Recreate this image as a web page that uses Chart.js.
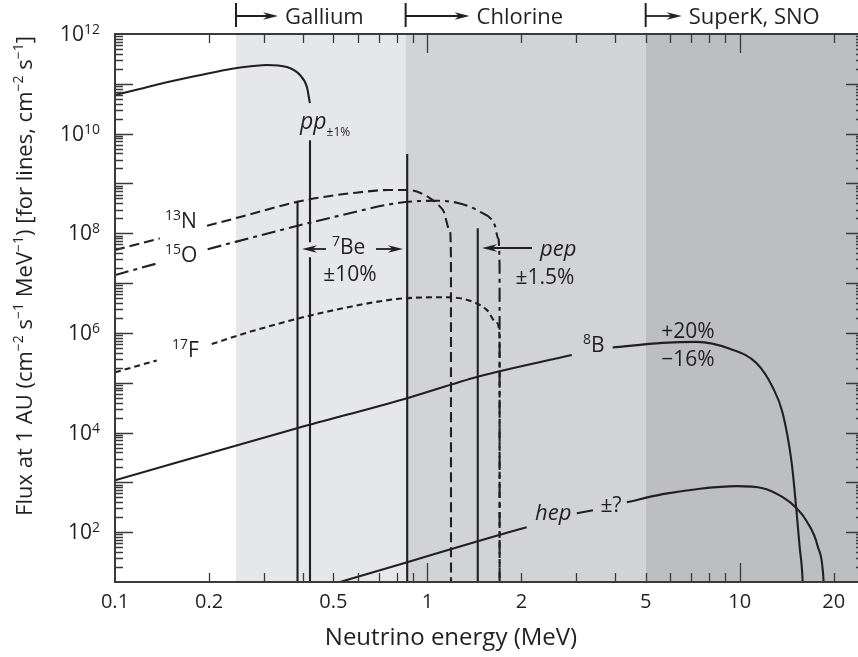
<!DOCTYPE html>
<html>
<head>
<meta charset="utf-8">
<script src="https://cdn.jsdelivr.net/npm/chart.js@4.4.1/dist/chart.umd.min.js"></script>
<style>
  html, body { margin: 0; padding: 0; overflow: hidden; background: #fff; }
  canvas { display: block; }
</style>
</head>
<body>
<canvas id="chart" width="870" height="657" style="width:870px;height:657px"></canvas>
<script>
// solar neutrino spectrum
// energies in MeV, fluxes in cm^-2 s^-1 MeV^-1 (lines: cm^-2 s^-1)
// null = gap in the curve where a label sits

const energyTicks  = [0.1, 0.2, 0.5, 1, 2, 5, 10, 20];
const energyLabels = ["0.1", "0.2", "0.5", "1", "2", "5", "10", "20"];
const fluxTicks    = [1e2, 1e4, 1e6, 1e8, 1e10, 1e12];
const fluxExps     = ["2", "4", "6", "8", "10", "12"];

const thresholds     = [0.244, 0.852, 5.0];
const thresholdNames = ["Gallium", "Chlorine", "SuperK, SNO"];

const ppE = [0.1, 0.12, 0.139, 0.178, 0.217, 0.245, 0.277, 0.306, 0.355, 0.391, 0.4115, 0.4207, 0.421, 0.421, 0.421, 0.421, 0.421, 0.421];
const ppF = [5.96e10, 7.87e10, 9.9e10, 1.4e11, 1.81e11, 2.08e11, 2.28e11, 2.39e11, 2.17e11, 1.5e11, 8.6e10, 4.1e10, null, 7.4e9, 6.6e7, null, 3.3e7, 1];

const n13E = [0.1, 0.139, 0.17, 0.197, 0.25, 0.385, 0.488, 0.6, 0.75, 0.862, 1.018, 1.121, 1.18, 1.19, 1.1905];
const n13F = [4.6e7, 7.9e7, null, 1.41e8, 2.1e8, 4.3e8, 5.6e8, 6.6e8, 7.4e8, 7.4e8, 5.1e8, 2.95e8, 1.15e8, 3.2e7, 1];

const o15E = [0.1, 0.137, 0.17, 0.198, 0.368, 0.536, 0.814, 1.07, 1.243, 1.472, 1.644, 1.685, 1.703, 1.7035];
const o15F = [1.45e7, 2.5e7, null, 4.8e7, 1.32e8, 2.34e8, 4.1e8, 4.5e8, 4.1e8, 2.7e8, 1.45e8, 7.9e7, 2.1e7, 1];

const f17E = [0.1, 0.136, 0.17, 0.204, 0.277, 0.488, 0.866, 1.15, 1.34, 1.55, 1.67, 1.703, 1.7035];
const f17F = [1.62e5, 2.8e5, null, 6.0e5, 1.1e6, 2.75e6, 5.0e6, 5.2e6, 4.6e6, 2.9e6, 1.58e6, 8.3e5, 1];

const b8E = [0.1, 0.385, 0.862, 1.45, 2.9, 3.3, 3.92, 5.67, 7.28, 9.29, 11.33, 12.75, 13.73, 14.67, 15.22, 15.56, 15.91, 16.0];
const b8F = [1.1e3, 1.23e4, 4.9e4, 1.32e5, 3.6e5, null, 5.1e5, 6.3e5, 6.6e5, 4.8e5, 2.45e5, 8.1e4, 2.45e4, 2.45e3, 240, 50, 10, 3];

const hepE = [0.45, 0.862, 1.45, 2.08, 2.5, 3.01, 3.39, 3.8, 4.35, 5.67, 7.28, 9.78, 11.85, 13.73, 15.22, 16.39, 17.77, 18.57, 18.7];
const hepF = [7.5, 25, 66, 126, null, 240, 275, null, 400, 580, 730, 839, 765, 505, 303, 166, 52, 10, 3];

// line sources (energy, flux at top of line)
const lineE = [0.384, 0.862, 1.45];
const lineF = [4.5e8, 3.9e9, 1.26e8];

const X_MIN = 0.1, X_MAX = 25, Y_MIN = 10, Y_MAX = 1e12;

const INK = "#231f20";
const FONT = '"Open Sans", "Noto Sans", sans-serif';
const f = (s, it) => (it ? "italic " : "") + s + "px " + FONT;

function pts(E, F) {
    return E.map((e, i) => ({ x: e, y: F[i] }));
}

function curve(E, F, dash) {
    return {
        data: pts(E, F),
        borderColor: INK,
        borderWidth: 2.1,
        borderDash: dash,
        pointRadius: 0,
        cubicInterpolationMode: "monotone",
        fill: false
    };
}

const datasets = [
    curve(ppE, ppF, []),
    curve(n13E, n13F, [10, 5]),
    curve(o15E, o15F, [14, 5, 4, 5]),
    curve(f17E, f17F, [6, 4]),
    curve(b8E, b8F, []),
    curve(hepE, hepF, [])
];
lineE.forEach((e, i) => {
    datasets.push({
        data: [{ x: e, y: lineF[i] }, { x: e, y: 1 }],
        borderColor: INK, borderWidth: 2.1, pointRadius: 0, tension: 0
    });
});

/* ---------- text helpers ---------- */
// parts: [{t, s (size), it, dy}]
function rich(ctx, x, y, parts, align) {
    let w = 0;
    parts.forEach(p => { ctx.font = f(p.s, p.it); p.w = ctx.measureText(p.t).width; w += p.w; });
    let cx = align === "right" ? x - w : align === "center" ? x - w / 2 : x;
    ctx.textAlign = "left";
    ctx.textBaseline = "alphabetic";
    parts.forEach(p => {
        ctx.font = f(p.s, p.it);
        ctx.fillText(p.t, cx, y + (p.dy || 0));
        cx += p.w;
    });
}

function arrow(ctx, x0, y, x1) {
    const dir = x1 > x0 ? 1 : -1, L = 15, W = 3.8;
    ctx.beginPath();
    ctx.moveTo(x0, y); ctx.lineTo(x1 - dir * L * 0.6, y);
    ctx.lineWidth = 1.8; ctx.stroke();
    ctx.beginPath();
    ctx.moveTo(x1, y);
    ctx.lineTo(x1 - dir * L, y - W);
    ctx.lineTo(x1 - dir * L * 0.7, y);
    ctx.lineTo(x1 - dir * L, y + W);
    ctx.closePath(); ctx.fill();
}

/* ---------- plugin: bands, frame, ticks, labels ---------- */
const deco = {
    id: "deco",
    beforeDatasetsDraw(chart) {
        const { ctx, chartArea: a, scales: { x } } = chart;
        const bandColors = ["#e6e7e8", "#d1d3d4", "#bcbec0"];
        ctx.save();
        thresholds.forEach((t, i) => {
            const x0 = x.getPixelForValue(t);
            const x1 = i < thresholds.length - 1 ? x.getPixelForValue(thresholds[i + 1]) : a.right;
            ctx.fillStyle = bandColors[i];
            ctx.fillRect(x0, a.top, x1 - x0, a.bottom - a.top);
        });
        ctx.restore();
    },
    afterDatasetsDraw(chart) {
        const { ctx, chartArea: a, scales: { x, y } } = chart;
        ctx.save();
        ctx.strokeStyle = "#3a3a3a";
        ctx.fillStyle = INK;

        // frame
        ctx.lineWidth = 2;
        ctx.strokeRect(a.left, a.top, a.right - a.left, a.bottom - a.top);

        // x ticks, inward top and bottom
        ctx.lineWidth = 1.3;
        [0.1, 1, 10].forEach(d => {
            for (let k = 1; k <= 9; k++) {
                const v = k * d;
                if (v <= X_MIN || v >= X_MAX) continue;
                const px = Math.round(x.getPixelForValue(v)) + 0.5;
                const len = k === 1 ? 19 : 9;
                ctx.beginPath();
                ctx.moveTo(px, a.bottom); ctx.lineTo(px, a.bottom - len);
                ctx.moveTo(px, a.top); ctx.lineTo(px, a.top + len);
                ctx.stroke();
            }
        });
        // y ticks, inward left and right
        for (let e = 1; e <= 11; e++) {
            for (let k = 1; k <= 9; k++) {
                const v = k * Math.pow(10, e);
                if (v <= Y_MIN || v >= Y_MAX) continue;
                const py = Math.round(y.getPixelForValue(v)) + 0.5;
                const len = k === 1 ? 18 : 8;
                ctx.beginPath();
                ctx.moveTo(a.left, py); ctx.lineTo(a.left + len, py);
                ctx.moveTo(a.right, py); ctx.lineTo(a.right - len, py);
                ctx.stroke();
            }
        }

        // x tick labels
        ctx.textAlign = "center";
        ctx.textBaseline = "alphabetic";
        ctx.font = f(20);
        energyTicks.forEach((v, i) => {
            ctx.fillText(energyLabels[i], x.getPixelForValue(v), a.bottom + 26);
        });
        // y tick labels 10^n
        fluxTicks.forEach((v, i) => {
            const py = y.getPixelForValue(v);
            rich(ctx, 100, py + 7, [{ t: "10", s: 21 }, { t: fluxExps[i], s: 14, dy: -7 }], "right");
        });

        // axis titles
        ctx.font = f(24);
        ctx.textAlign = "center";
        ctx.fillText("Neutrino energy (MeV)", 451, 645);

        ctx.save();
        ctx.translate(32, 276);
        ctx.rotate(-Math.PI / 2);
        const S = 22, s = 14, up = -9;
        rich(ctx, 0, 0, [
            { t: "Flux at 1 AU (cm", s: S }, { t: "\u22122", s: s, dy: up },
            { t: " s", s: S }, { t: "\u22121", s: s, dy: up },
            { t: " MeV", s: S }, { t: "\u22121", s: s, dy: up },
            { t: ") [for lines, cm", s: S }, { t: "\u22122", s: s, dy: up },
            { t: " s", s: S }, { t: "\u22121", s: s, dy: up },
            { t: "]", s: S }
        ], "center");
        ctx.restore();

        // detector thresholds along the top
        const tipOffset = [42, 64, 36];
        ctx.strokeStyle = INK;
        thresholds.forEach((t, i) => {
            const px = x.getPixelForValue(t);
            ctx.lineWidth = 2;
            ctx.beginPath(); ctx.moveTo(px, 3); ctx.lineTo(px, 27); ctx.stroke();
            arrow(ctx, px, 16, px + tipOffset[i]);
            ctx.font = f(22);
            ctx.textAlign = "left";
            ctx.fillText(thresholdNames[i], px + tipOffset[i] + 7, 24);
        });

        // curve labels
        rich(ctx, 300, 129, [{ t: "pp", s: 23, it: true }, { t: "\u00b11%", s: 12, dy: 7 }], "left");
        rich(ctx, 165, 228, [{ t: "13", s: 14, dy: -8 }, { t: "N", s: 21 }], "left");
        rich(ctx, 165, 262, [{ t: "15", s: 14, dy: -8 }, { t: "O", s: 21 }], "left");
        rich(ctx, 172, 357, [{ t: "17", s: 14, dy: -8 }, { t: "F", s: 21 }], "left");
        rich(ctx, 583, 352, [{ t: "8", s: 14, dy: -8 }, { t: "B", s: 21 }], "left");

        // 7Be
        ctx.lineWidth = 1.8;
        arrow(ctx, 326, 249, 302);
        rich(ctx, 332, 254, [{ t: "7", s: 14, dy: -8 }, { t: "Be", s: 21 }], "left");
        arrow(ctx, 376, 249, 403);
        rich(ctx, 350, 281, [{ t: "\u00b110%", s: 21 }], "center");

        // pep
        arrow(ctx, 532, 248, 482);
        rich(ctx, 540, 256, [{ t: "pep", s: 22, it: true }], "left");
        rich(ctx, 545, 284, [{ t: "\u00b11.5%", s: 21 }], "center");

        // 8B errors
        rich(ctx, 688, 338, [{ t: "+20%", s: 21 }], "center");
        rich(ctx, 688, 366, [{ t: "\u221216%", s: 21 }], "center");

        // hep
        rich(ctx, 535, 520, [{ t: "hep", s: 22, it: true }], "left");
        rich(ctx, 611, 512, [{ t: "\u00b1?", s: 21 }], "center");

        ctx.restore();
    }
};

new Chart(document.getElementById("chart"), {
    type: "line",
    data: { datasets },
    options: {
        responsive: false,
        animation: false,
        spanGaps: false,
        layout: { padding: { left: 115, top: 34, right: 6, bottom: 75 } },
        plugins: { legend: { display: false }, tooltip: { enabled: false } },
        scales: {
            x: { type: "logarithmic", min: X_MIN, max: X_MAX, display: false },
            y: { type: "logarithmic", min: Y_MIN, max: Y_MAX, display: false }
        }
    },
    plugins: [deco]
});
</script>
</body>
</html>
